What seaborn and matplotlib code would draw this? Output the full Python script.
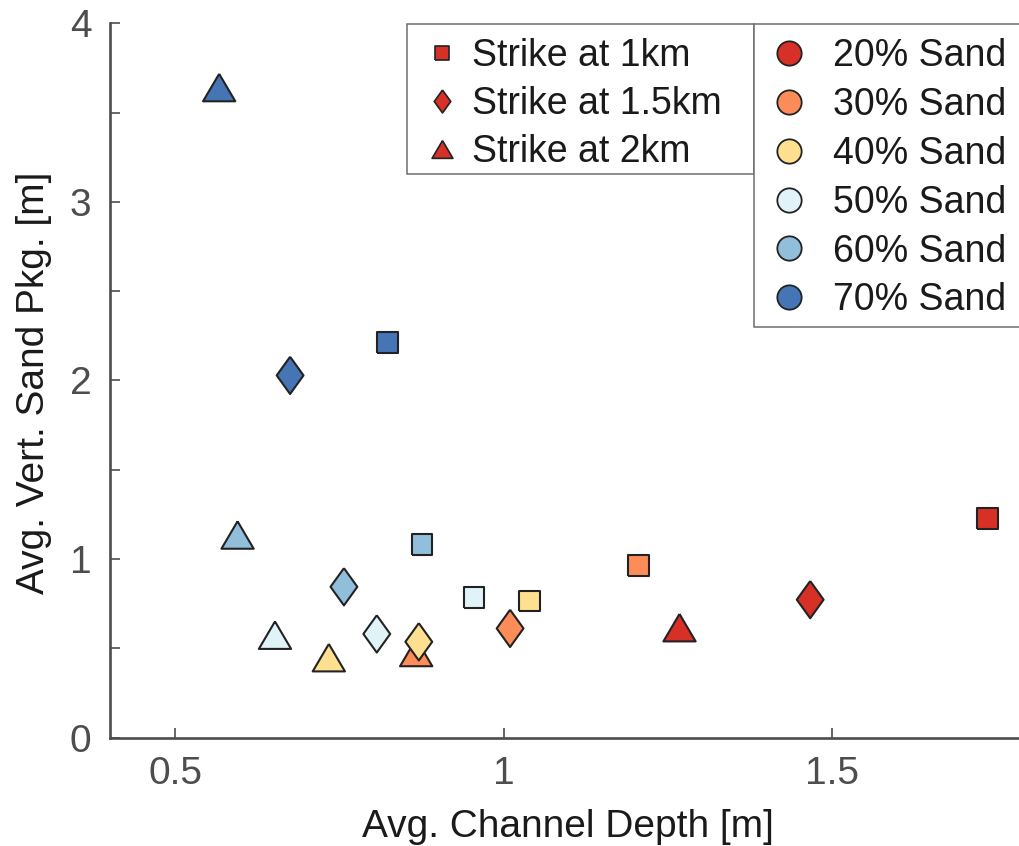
import numpy as np
import pandas as pd
import matplotlib
matplotlib.use("Agg")
import matplotlib.pyplot as plt
from matplotlib.lines import Line2D
from matplotlib.patches import Rectangle
import seaborn as sns

# ---- data -------------------------------------------------------------
sand_labels = ["20% Sand", "30% Sand", "40% Sand", "50% Sand", "60% Sand", "70% Sand"]
strike_labels = ["Strike at 1km", "Strike at 1.5km", "Strike at 2km"]

# average channel depth [m] per sand fraction
depth_1km = [1.737, 1.206, 1.040, 0.955, 0.876, 0.823]
depth_15km = [1.467, 1.010, 0.871, 0.807, 0.757, 0.675]
depth_2km = [1.268, 0.867, 0.734, 0.652, 0.595, 0.567]

# average vertical sand packaging [m] per sand fraction
pkg_1km = [1.225, 0.964, 0.765, 0.783, 1.081, 2.213]
pkg_15km = [0.772, 0.611, 0.536, 0.580, 0.844, 2.028]
pkg_2km = [0.615, 0.476, 0.447, 0.573, 1.134, 3.640]

sand_colors = ["#d73027", "#fc8d59", "#fee090", "#e0f3f8", "#91bfdb", "#4575b4"]

x_ticks = [0.5, 1.0, 1.5]
x_tick_labels = ["0.5", "1", "1.5"]
y_ticks = [0, 0.5, 1, 1.5, 2, 2.5, 3, 3.5, 4]
y_tick_labels = ["0", "", "1", "", "2", "", "3", "", "4"]

frames = []
for strike, xs, ys in zip(strike_labels,
                          [depth_1km, depth_15km, depth_2km],
                          [pkg_1km, pkg_15km, pkg_2km]):
    frames.append(pd.DataFrame({"depth": xs, "pkg": ys,
                                "sand": sand_labels, "strike": strike}))
df = pd.concat(frames, ignore_index=True)

# ---- marker shapes ------------------------------------------------------
square = [(-1, -1), (1, -1), (1, 1), (-1, 1), (-1, -1)]
diamond = [(0, 1), (0.72, 0), (0, -1), (-0.72, 0), (0, 1)]
triangle = [(0, 0.85), (1, -0.85), (-1, -0.85), (0, 0.85)]
shape = {"Strike at 1km": (square, 220),
         "Strike at 1.5km": (diamond, 720),
         "Strike at 2km": (triangle, 540)}

# ---- figure -------------------------------------------------------------
sns.set_theme(style="white")
plt.rcParams["font.family"] = ["Liberation Sans", "DejaVu Sans"]

W, H = 1019, 846
fig = plt.figure(figsize=(W / 100, H / 100), dpi=100)
ax_l, ax_b, ax_r, ax_t = 109.5, 737.5, 1019, 23.3
ax = fig.add_axes([ax_l / W, (H - ax_b) / H, (ax_r - ax_l) / W, (ax_b - ax_t) / H])

palette = dict(zip(sand_labels, sand_colors))
for strike in ["Strike at 2km", "Strike at 1.5km", "Strike at 1km"]:
    verts, size = shape[strike]
    sns.scatterplot(data=df[df["strike"] == strike], x="depth", y="pkg",
                    hue="sand", palette=palette, hue_order=sand_labels,
                    marker=verts, s=size, edgecolor="#222222", linewidth=1.5,
                    legend=False, ax=ax, zorder=3, clip_on=False)

ax.set_xlim(0.4, 0.4 + (ax_r - ax_l) / 656.7)
ax.set_ylim(0, 4)
ax.set_xticks(x_ticks)
ax.set_xticklabels(x_tick_labels)
ax.set_yticks(y_ticks)
ax.set_yticklabels(y_tick_labels)

axis_grey = "#4d4d4d"
for side in ["top", "right"]:
    ax.spines[side].set_visible(False)
for side in ["left", "bottom"]:
    ax.spines[side].set_color(axis_grey)
    ax.spines[side].set_linewidth(1.9)
    ax.spines[side].set_capstyle("projecting")
ax.tick_params(axis="both", which="major", bottom=True, left=True,
               direction="in", length=7, width=1.2,
               color=axis_grey, labelcolor=axis_grey, labelsize=28, pad=13)
ax.grid(False)

ax.set_xlabel("Avg. Channel Depth [m]", fontsize=28, color="#1a1a1a")
ax.set_ylabel("Avg. Vert. Sand Pkg. [m]", fontsize=28, color="#1a1a1a")
ax.xaxis.set_label_coords((567.5 - ax_l) / (ax_r - ax_l), (ax_b - 809) / (ax_b - ax_t))
ax.yaxis.set_label_coords((52 - ax_l) / (ax_r - ax_l), (ax_b - 382.5) / (ax_b - ax_t))

# ---- legends ------------------------------------------------------------
edge = "#222222"
leg_fs = 27
shape_handles = [
    Line2D([], [], linestyle="none", marker=square, markersize=9.5,
           markerfacecolor=sand_colors[0], markeredgecolor=edge, markeredgewidth=1.2),
    Line2D([], [], linestyle="none", marker=diamond, markersize=16.5,
           markerfacecolor=sand_colors[0], markeredgecolor=edge, markeredgewidth=1.2),
    Line2D([], [], linestyle="none", marker=triangle, markersize=15,
           markerfacecolor=sand_colors[0], markeredgecolor=edge, markeredgewidth=1.2),
]
color_handles = [
    Line2D([], [], linestyle="none", marker="o", markersize=17.5,
           markerfacecolor=c, markeredgecolor=edge, markeredgewidth=1.3)
    for c in sand_colors
]

frame_kw = dict(facecolor="white", edgecolor="#6e6e6e", linewidth=1.1,
                transform=None, zorder=4)


def px_rect(x0, y0, x1, y1):
    # rectangle given in image pixels measured from the top-left corner
    return Rectangle((x0, H - y1), x1 - x0, y1 - y0, **frame_kw)


left_box = (407.2, 24, 753.8, 174)
right_box = (753.8, 24, 1030, 326.7)
fig.patches.append(px_rect(*left_box))
fig.patches.append(px_rect(*right_box))

leg1 = fig.legend(shape_handles, strike_labels, loc="upper left",
                  bbox_to_anchor=(left_box[0] / W, 1 - (left_box[1] + 7) / H),
                  frameon=False, fontsize=leg_fs, borderpad=0.2,
                  handlelength=1.46, handletextpad=0.06, labelspacing=0.31,
                  borderaxespad=0)
leg2 = fig.legend(color_handles, sand_labels, loc="upper left",
                  bbox_to_anchor=(right_box[0] / W, 1 - (right_box[1] + 7) / H),
                  frameon=False, fontsize=leg_fs, borderpad=0.2,
                  handlelength=1.47, handletextpad=0.43, labelspacing=0.34,
                  borderaxespad=0)
for leg in (leg1, leg2):
    leg.set_zorder(5)
    for t in leg.get_texts():
        t.set_color("#1a1a1a")

fig.savefig("out.png", dpi=100)
